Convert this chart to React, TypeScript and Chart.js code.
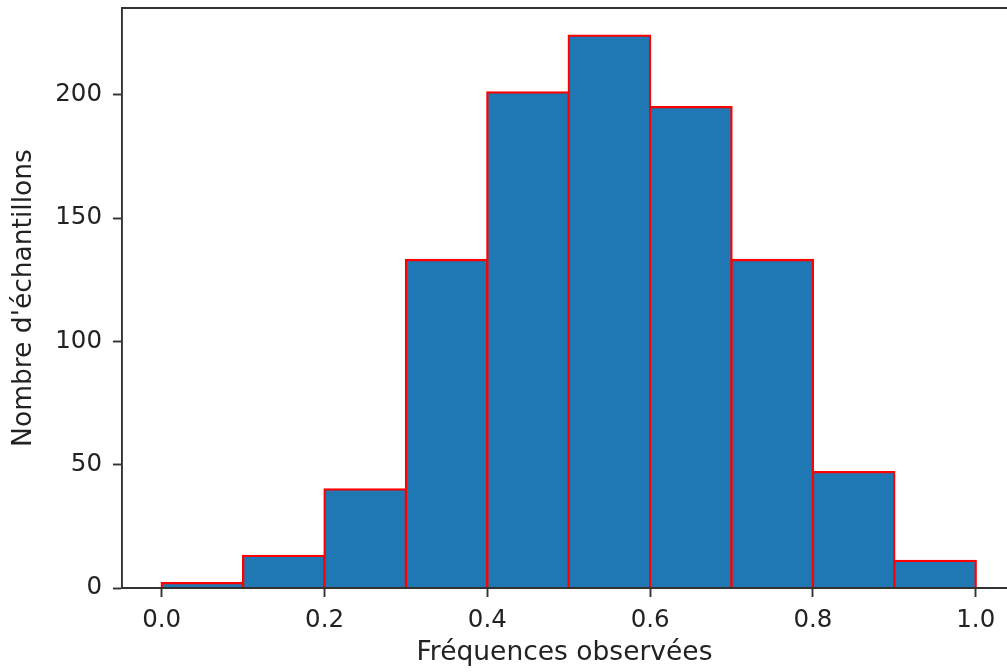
import React, { useEffect, useRef } from 'react';
import { Chart, registerables } from 'chart.js';

Chart.register(...registerables);

const BIN_EDGES = [0.0, 0.1, 0.2, 0.3, 0.4, 0.5, 0.6, 0.7, 0.8, 0.9, 1.0];
const COUNTS = [2, 13, 40, 133, 201, 224, 195, 133, 47, 11];
const X_TICKS = [0.0, 0.2, 0.4, 0.6, 0.8, 1.0];
const Y_TICKS = [0, 50, 100, 150, 200];
const X_LABEL = 'Fréquences observées';
const Y_LABEL = "Nombre d'échantillons";

const AXIS = '#333333';
const TEXT = '#222222';

export default function App() {
  const ref = useRef<HTMLCanvasElement>(null);

  useEffect(() => {
    if (!ref.current) return;
    const tickFont = { family: 'DejaVu Sans', size: 24.5 };
    const labelFont = { family: 'DejaVu Sans', size: 26.5 };
    const topSpine = {
      id: 'topSpine',
      afterDraw(chart: any) {
        const { ctx, chartArea } = chart;
        ctx.save();
        ctx.strokeStyle = AXIS;
        ctx.lineWidth = 1.9;
        ctx.beginPath();
        ctx.moveTo(chartArea.left - 1, chartArea.top);
        ctx.lineTo(chartArea.right, chartArea.top);
        ctx.stroke();
        ctx.restore();
      },
    };
    const chart = new Chart(ref.current, {
      type: 'bar',
      data: {
        datasets: [
          {
            data: COUNTS.map((c, i) => ({ x: (BIN_EDGES[i] + BIN_EDGES[i + 1]) / 2, y: c })),
            backgroundColor: '#1f77b4',
            borderColor: '#ff0000',
            borderWidth: 2.3,
            inflateAmount: 1.15,
            barPercentage: 1,
            categoryPercentage: 1,
            borderSkipped: 'start',
          } as any,
        ],
      },
      options: {
        animation: false,
        responsive: false,
        devicePixelRatio: 1,
        layout: { padding: { top: 8, left: 0, right: 0, bottom: 0 } },
        plugins: { legend: { display: false }, tooltip: { enabled: false } },
        scales: {
          x: {
            type: 'linear',
            min: -0.0488,
            max: 1.0384,
            offset: false,
            afterBuildTicks: (s: any) => {
              s.ticks = X_TICKS.map((v) => ({ value: v }));
            },
            afterFit: (s: any) => {
              s.height = 84;
              s.paddingLeft = 0;
              s.paddingRight = 0;
            },
            grid: {
              display: true,
              offset: false,
              drawOnChartArea: false,
              drawTicks: true,
              tickLength: 9,
              tickWidth: 1.9,
              tickColor: AXIS,
            },
            border: { display: true, color: AXIS, width: 1.9, z: 1 },
            ticks: {
              font: tickFont,
              color: TEXT,
              padding: 9,
              maxRotation: 0,
              autoSkip: false,
              callback: (v: any) => Number(v).toFixed(1),
            },
            title: { display: true, text: X_LABEL, font: labelFont, color: TEXT, padding: { top: 0, bottom: 3 } },
          } as any,
          y: {
            type: 'linear',
            min: 0,
            max: 235.2,
            afterBuildTicks: (s: any) => {
              s.ticks = Y_TICKS.map((v) => ({ value: v }));
            },
            afterFit: (s: any) => {
              s.width = 122;
              s.paddingTop = 0;
              s.paddingBottom = 0;
            },
            grid: {
              display: true,
              drawOnChartArea: false,
              drawTicks: true,
              tickLength: 9,
              tickWidth: 1.9,
              tickColor: AXIS,
            },
            border: { display: true, color: AXIS, width: 1.9, z: 1 },
            ticks: {
              font: tickFont,
              color: TEXT,
              padding: 11,
              autoSkip: false,
              callback: (v: any) => String(v),
            },
            title: { display: true, text: Y_LABEL, font: labelFont, color: TEXT, padding: { top: 8, bottom: 0 } },
          } as any,
        },
      },
      plugins: [topSpine],
    });
    return () => chart.destroy();
  }, []);

  return (
    <div style={{ position: 'fixed', left: 0, top: 0, width: 1007, height: 672, background: '#fff' }}>
      <canvas ref={ref} width={1007} height={672} style={{ display: 'block' }} />
    </div>
  );
}
